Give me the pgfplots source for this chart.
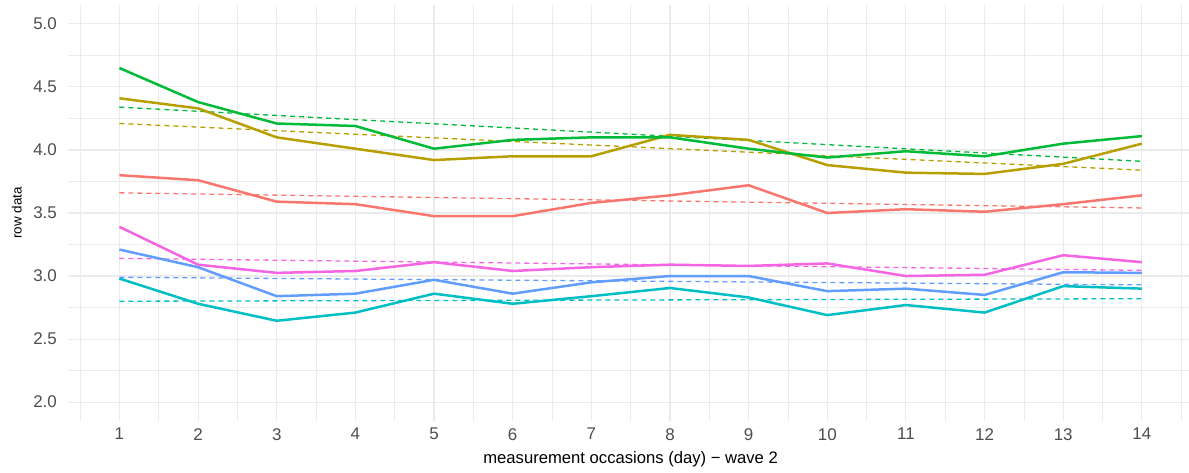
\documentclass[border=0pt]{standalone}
\usepackage{pgfplots}
\pgfplotsset{compat=1.18}
\usepackage{pgfplotstable}
\usepackage{fontspec}
\setmainfont{Liberation Sans}
\definecolor{cRed}{HTML}{F8766D}
\definecolor{cOlive}{HTML}{B79F00}
\definecolor{cGreen}{HTML}{00BA38}
\definecolor{cTeal}{HTML}{00BFC4}
\definecolor{cBlue}{HTML}{619CFF}
\definecolor{cPink}{HTML}{F564E3}
\definecolor{gridmaj}{HTML}{EBEBEB}
\definecolor{ticktext}{HTML}{4D4D4D}
\pgfplotstableread{
x red olive green teal blue pink
1  3.80 4.41 4.65 2.98 3.21 3.39
2  3.76 4.33 4.38 2.78 3.07 3.09
3  3.59 4.10 4.21 2.645 2.84 3.025
4  3.57 4.01 4.19 2.71 2.86 3.04
5  3.475 3.92 4.01 2.86 2.97 3.11
6  3.475 3.95 4.08 2.78 2.86 3.04
7  3.58 3.95 4.10 2.84 2.95 3.07
8  3.64 4.12 4.10 2.905 3.00 3.09
9  3.72 4.08 4.01 2.83 3.00 3.08
10 3.50 3.88 3.94 2.69 2.88 3.10
11 3.53 3.82 3.99 2.77 2.90 3.00
12 3.51 3.81 3.95 2.71 2.85 3.01
13 3.57 3.89 4.05 2.92 3.03 3.165
14 3.64 4.05 4.11 2.90 3.025 3.11
}\datatab
\begin{document}
\begin{tikzpicture}
\useasboundingbox (0,0) rectangle (1189bp,473bp);
\begin{axis}[
  at={(68.3bp,52bp)}, anchor=south west,
  scale only axis, width=1124.7bp, height=416bp,
  xmin=0.35, xmax=14.65, ymin=1.85, ymax=5.15,
  axis line style={draw=none},
  major tick length=0pt, minor tick length=0pt,
  xtick={1,...,14},
  minor xtick={0.5,1.5,...,14.5},
  ytick={2,2.5,3,3.5,4,4.5,5},
  minor ytick={2.25,2.75,3.25,3.75,4.25,4.75},
  grid=both,
  major grid style={draw=gridmaj, line width=1.1bp},
  minor grid style={draw=gridmaj, line width=0.55bp},
  /pgf/number format/assume math mode=true,
  yticklabel style={/pgf/number format/fixed, /pgf/number format/precision=1, /pgf/number format/fixed zerofill},
  tick label style={font=\fontsize{17}{19}\selectfont, text=ticktext, inner sep=0pt},
  yticklabel style={anchor=east, xshift=-11.3bp},
  xticklabel style={anchor=north, yshift=-7bp},
  xlabel={measurement occasions (day) − wave 2},
  ylabel={row data},
  xlabel style={font=\fontsize{16.7}{18}\selectfont, at={(axis description cs:0.5,0)}, anchor=base, yshift=-42bp, inner sep=0pt},
  ylabel style={font=\fontsize{13.5}{15}\selectfont, at={(axis description cs:0,0.5)}, anchor=base, yshift=46.6bp, inner sep=0pt},
  clip=false,
]
% dashed linear trends
\addplot[cRed, line width=1.3bp, dash pattern=on 5bp off 4bp] coordinates {(1,3.66) (14,3.54)};
\addplot[cOlive, line width=1.3bp, dash pattern=on 5bp off 4bp] coordinates {(1,4.21) (14,3.84)};
\addplot[cGreen, line width=1.3bp, dash pattern=on 5bp off 4bp] coordinates {(1,4.34) (14,3.91)};
\addplot[cTeal, line width=1.3bp, dash pattern=on 5bp off 4bp] coordinates {(1,2.80) (14,2.82)};
\addplot[cBlue, line width=1.3bp, dash pattern=on 5bp off 4bp] coordinates {(1,2.99) (14,2.93)};
\addplot[cPink, line width=1.3bp, dash pattern=on 5bp off 4bp] coordinates {(1,3.14) (14,3.045)};
% observed means
\addplot[cRed, line width=2.5bp] table[x=x, y=red] {\datatab};
\addplot[cOlive, line width=2.5bp] table[x=x, y=olive] {\datatab};
\addplot[cGreen, line width=2.5bp] table[x=x, y=green] {\datatab};
\addplot[cTeal, line width=2.5bp] table[x=x, y=teal] {\datatab};
\addplot[cBlue, line width=2.5bp] table[x=x, y=blue] {\datatab};
\addplot[cPink, line width=2.5bp] table[x=x, y=pink] {\datatab};
\end{axis}
\end{tikzpicture}
\end{document}
